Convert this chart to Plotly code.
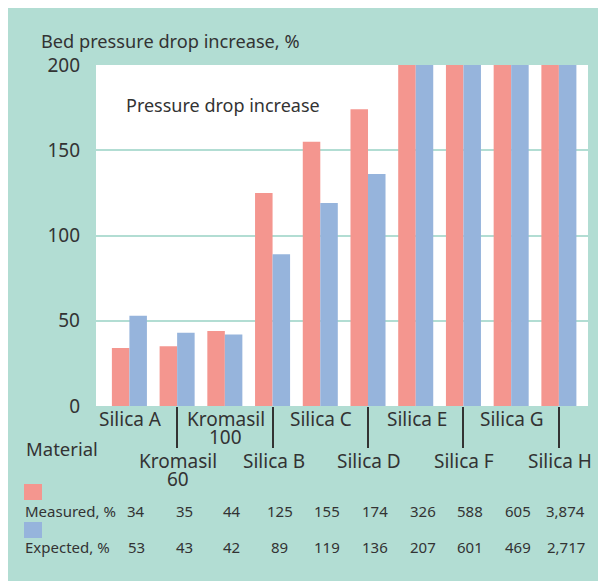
import plotly.graph_objects as go

# Bed pressure drop increase per packing material (%)
materials = ["Silica A", "Kromasil 60", "Kromasil 100", "Silica B", "Silica C",
             "Silica D", "Silica E", "Silica F", "Silica G", "Silica H"]
measured = [34, 35, 44, 125, 155, 174, 326, 588, 605, 3874]
expected = [53, 43, 42, 89, 119, 136, 207, 601, 469, 2717]
y_ticks = [0, 50, 100, 150, 200]

TEAL = "#B2DDD3"
RED = "#F4968F"
BLUE = "#96B4DC"
INK = "#333333"
FONT = "Noto Sans"

# page has an 8px body margin, so the figure is a bit smaller than the window
OFF = 8
W, H = 606 - OFF, 581 - OFF
# plot area in page pixels
L, T, PW, PH = 96, 65, 492, 341


def px(x):
    return (x - L) / PW


def py(y):
    return (T + PH - y) / PH


fig = go.Figure()
fig.add_trace(go.Bar(x=materials, y=measured, name="Measured, %", marker_color=RED,
                     marker_line_width=0))
fig.add_trace(go.Bar(x=materials, y=expected, name="Expected, %", marker_color=BLUE,
                     marker_line_width=0))

ann = []
# category labels, staggered on two rows
for i, m in enumerate(materials):
    lines = m.split(" ") if m.startswith("Kromasil") else [m]
    y0 = 418.5 if i % 2 == 0 else 460.5
    for k, line in enumerate(lines):
        ann.append(dict(x=i, xref="x", xshift=1, y=py(y0 + 18.5 * k), yref="paper",
                        text=line, showarrow=False, xanchor="center", yanchor="middle",
                        font=dict(size=19, color=INK, family=FONT)))

# table of values under the chart
for i, (m, e) in enumerate(zip(measured, expected)):
    ann.append(dict(x=i, xref="x", xshift=7, y=py(511), yref="paper", text=f"{m:,}",
                    showarrow=False, xanchor="center", yanchor="middle",
                    font=dict(size=15, color=INK, family=FONT)))
    ann.append(dict(x=i, xref="x", xshift=7, y=py(547), yref="paper", text=f"{e:,}",
                    showarrow=False, xanchor="center", yanchor="middle",
                    font=dict(size=15, color=INK, family=FONT)))

texts = [
    ("Bed pressure drop increase, %", 39, 41, 18.2),
    ("Pressure drop increase", 124, 105, 18),
    ("Material", 24, 449, 18.5),
    ("Measured, %", 23, 511, 15),
    ("Expected, %", 23, 547, 15),
]
for t, x, y, s in texts:
    ann.append(dict(x=px(x), xref="paper", y=py(y), yref="paper", text=t,
                    showarrow=False, xanchor="left", yanchor="middle",
                    font=dict(size=s, color=INK, family=FONT)))

shapes = [
    # legend swatches
    dict(type="rect", xref="paper", yref="paper", x0=px(24), x1=px(42),
         y0=py(500), y1=py(484), fillcolor=RED, line_width=0),
    dict(type="rect", xref="paper", yref="paper", x0=px(24), x1=px(42),
         y0=py(538), y1=py(522), fillcolor=BLUE, line_width=0),
]

fig.update_layout(
    width=W, height=H, autosize=False,
    margin=dict(l=L - OFF, r=W - (L - OFF) - PW, t=T - OFF, b=H - (T - OFF) - PH, pad=0),
    paper_bgcolor=TEAL, plot_bgcolor="white",
    barmode="group", bargap=0.266, bargroupgap=0,
    showlegend=False,
    font=dict(family=FONT, color=INK),
    annotations=ann, shapes=shapes,
    xaxis=dict(type="category", range=[-0.70, 9.61], showticklabels=False,
               tickmode="array", tickvals=[materials[i] for i in range(1, 10, 2)],
               ticks="outside", ticklen=41, tickwidth=1.5, tickcolor=INK,
               showgrid=False, zeroline=False, showline=False),
    yaxis=dict(range=[0, 200], tickmode="array", tickvals=y_ticks,
               showgrid=True, gridcolor=TEAL, gridwidth=1.5,
               zeroline=False, showline=False, ticks="",
               ticklabelstandoff=15,
               tickfont=dict(size=19, color=INK, family=FONT)),
)

fig.write_html("out.html")
